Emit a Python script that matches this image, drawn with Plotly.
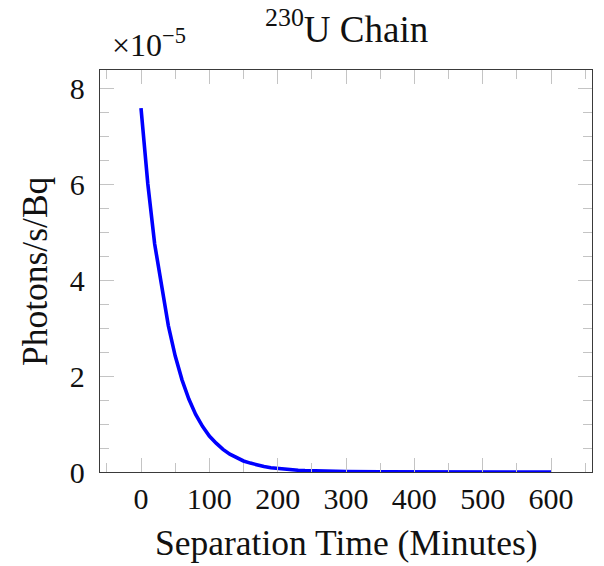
import plotly.graph_objects as go

# Separation time (minutes)
time_min = [0, 10, 20, 30, 40, 50, 60, 70, 80, 90, 100, 110, 120, 130, 140, 150,
            160, 170, 180, 190, 200, 210, 220, 230, 240, 250, 260, 270, 280, 290,
            300, 350, 400, 450, 500, 550, 600]
# Photons/s/Bq
photons = [7.58e-5, 6.00e-5, 4.75e-5, 3.85e-5, 3.05e-5, 2.42e-5, 1.92e-5, 1.52e-5,
           1.20e-5, 0.95e-5, 0.75e-5, 0.60e-5, 0.47e-5, 0.37e-5, 0.30e-5, 0.23e-5,
           0.185e-5, 0.145e-5, 0.115e-5, 0.090e-5, 0.072e-5, 0.057e-5, 0.045e-5,
           0.036e-5, 0.028e-5, 0.022e-5, 0.018e-5, 0.014e-5, 0.011e-5, 0.009e-5,
           0.007e-5, 0.002e-5, 0.0006e-5, 0.0002e-5, 0.0001e-5, 0.00003e-5, 0.00001e-5]

scale = 1e5
y_scaled = [v * scale for v in photons]

x_ticks = [0, 100, 200, 300, 400, 500, 600]
y_ticks = [0, 2, 4, 6, 8]

FONT = "Liberation Serif"
TICKC = "#c4c4c4"
AXC = "#3a3a3a"
TXT = "#111111"

fig = go.Figure()
fig.add_trace(go.Scatter(x=time_min, y=y_scaled, mode="lines",
                         line=dict(color="#0000ff", width=3.6), showlegend=False))

# page body has an 8px margin, so the figure is drawn 8px smaller
fig.update_layout(
    width=596, height=558,
    margin=dict(l=92, r=12, t=62, b=94, autoexpand=False),
    paper_bgcolor="white", plot_bgcolor="white",
    font=dict(family=FONT, size=30, color=TXT),
)
fig.update_xaxes(
    range=[-60, 660], tickvals=x_ticks, ticktext=[str(t) for t in x_ticks],
    showgrid=False, zeroline=False, automargin=False,
    showline=True, linecolor=AXC, linewidth=1.3, mirror="ticks",
    ticks="inside", ticklen=14, tickwidth=1, tickcolor=TICKC,
    ticklabelstandoff=0, tickfont=dict(size=30),
    minor=dict(ticks="inside", dtick=50, tick0=0, ticklen=9, tickcolor=TICKC, tickwidth=1, showgrid=False),
)
fig.update_yaxes(
    range=[0, 8.375], tickvals=y_ticks, ticktext=[str(t) for t in y_ticks],
    showgrid=False, zeroline=False, automargin=False,
    showline=True, linecolor=AXC, linewidth=1.3, mirror="ticks",
    ticks="inside", ticklen=14, tickwidth=1, tickcolor=TICKC,
    ticklabelstandoff=8, tickfont=dict(size=30),
    minor=dict(ticks="inside", dtick=0.5, tick0=0, ticklen=9, tickcolor=TICKC, tickwidth=1, showgrid=False),
)
# title
fig.add_annotation(text="<sup>230</sup>U Chain", xref="paper", yref="paper",
                   x=0.5, y=1.108, xanchor="center", yanchor="middle",
                   showarrow=False, font=dict(size=37))
# multiplier
fig.add_annotation(text="×10<sup>−5</sup>", xref="paper", yref="paper",
                   x=0.02, y=1.066, xanchor="left", yanchor="middle",
                   showarrow=False, font=dict(size=32))
# axis titles
fig.add_annotation(text="Separation Time (Minutes)", xref="paper", yref="paper",
                   x=0.5, y=-0.1766, xanchor="center", yanchor="middle",
                   showarrow=False, font=dict(size=35.5))
fig.add_annotation(text="Photons/s/Bq", xref="paper", yref="paper",
                   x=-0.132, y=0.5, xanchor="center", yanchor="middle", textangle=-90,
                   showarrow=False, font=dict(size=35.5))

fig.write_html("out.html")
